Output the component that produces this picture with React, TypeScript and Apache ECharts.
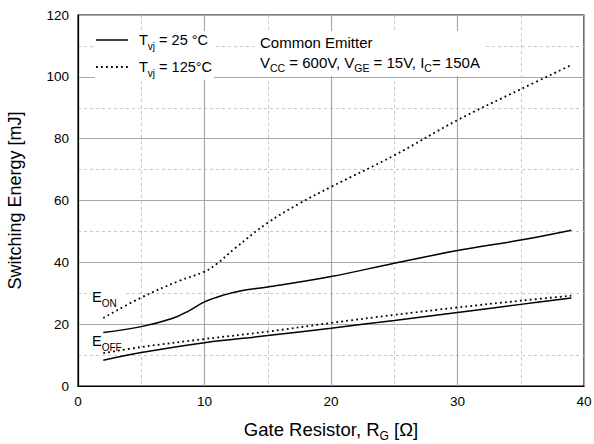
import React, { useEffect, useRef } from "react";
import * as echarts from "echarts";

const eon25X = [2, 5, 7.5, 8.8, 10, 11.5, 13, 15, 20, 25, 30, 35, 39];
const eon25Y = [17.3, 19.2, 21.9, 24.4, 27.2, 29.4, 30.9, 32.0, 35.4, 39.7, 43.8, 47.2, 50.4];

const eon125X = [2, 5, 8, 10, 11, 12.4, 15, 17.5, 20, 25, 30, 35, 39];
const eon125Y = [22.0, 28.6, 34.0, 37.0, 39.6, 44.5, 52.8, 59.0, 64.4, 74.6, 86.0, 96.0, 103.8];

const eoff25X = [2, 5, 10, 15, 20, 25, 30, 35, 39];
const eoff25Y = [8.3, 10.8, 14.0, 16.3, 18.7, 21.2, 23.8, 26.4, 28.5];

const eoff125X = [2, 5, 10, 15, 20, 25, 30, 35, 39];
const eoff125Y = [10.6, 12.6, 15.2, 17.6, 20.4, 23.0, 25.4, 27.6, 29.2];

const xTicks = [0, 10, 20, 30, 40];
const yTicks = [0, 20, 40, 60, 80, 100, 120];

const pairs = (xs: number[], ys: number[]) => xs.map((x, i) => [x, ys[i]]);

const FONT = "'Liberation Sans', Arial, sans-serif";
const DOT: number[] = [1.8, 3.2];

export default function App() {
  const ref = useRef<HTMLDivElement>(null);
  useEffect(() => {
    if (!ref.current) return;
    const chart = echarts.init(ref.current, undefined, { renderer: "svg" });
    const rich = {
      n: { fontSize: 14.5, fontFamily: FONT, color: "#000", lineHeight: 22 },
      s: { fontSize: 10, fontFamily: FONT, color: "#000", lineHeight: 11, verticalAlign: "bottom" },
    };
    const rich2 = {
      n: { fontSize: 15, fontFamily: FONT, color: "#000", lineHeight: 22 },
      s: { fontSize: 10.5, fontFamily: FONT, color: "#000", lineHeight: 11, verticalAlign: "bottom" },
    };
    const solid = { color: "#000", width: 1.5, type: "solid" };
    const dotted = { color: "#000", width: 1.8, type: DOT };
    chart.setOption({
      animation: false,
      backgroundColor: "#fff",
      textStyle: { fontFamily: FONT },
      grid: {
        left: 78,
        right: 10,
        top: 15,
        bottom: 58,
        show: true,
        borderColor: "#000",
        borderWidth: 1.2,
        containLabel: false,
        outerBoundsMode: "none",
      },
      xAxis: {
        type: "value",
        min: xTicks[0],
        max: xTicks[xTicks.length - 1],
        interval: 10,
        name: "{n|Gate Resistor, R}{s|G}{n| [Ω]}",
        nameLocation: "middle",
        nameGap: 30,
        nameTextStyle: {
          fontSize: 18.5,
          fontFamily: FONT,
          color: "#000",
          rich: {
            n: { fontSize: 18.5, fontFamily: FONT, color: "#000", lineHeight: 26 },
            s: { fontSize: 12, fontFamily: FONT, color: "#000", lineHeight: 12, verticalAlign: "bottom" },
          },
        },
        axisLine: { show: true, lineStyle: { color: "#000", width: 1.2 } },
        axisTick: { show: false },
        axisLabel: { fontSize: 13.5, color: "#000", fontFamily: FONT, margin: 8 },
        splitLine: { show: true, lineStyle: { color: "#a8a8a8", width: 1.2 } },
        minorTick: { show: false, splitNumber: 2 },
        minorSplitLine: { show: true, lineStyle: { color: "#c8c8c8", type: [3, 3], width: 1 } },
      },
      yAxis: {
        type: "value",
        min: yTicks[0],
        max: yTicks[yTicks.length - 1],
        interval: 20,
        name: "Switching Energy [mJ]",
        nameLocation: "middle",
        nameGap: 54,
        nameTextStyle: { fontSize: 18, fontFamily: FONT, color: "#000" },
        axisLine: { show: true, lineStyle: { color: "#000", width: 1.2 } },
        axisTick: { show: false },
        axisLabel: { fontSize: 13.5, color: "#000", fontFamily: FONT, margin: 9 },
        splitLine: { show: true, lineStyle: { color: "#a8a8a8", width: 1.2 } },
        minorTick: { show: false, splitNumber: 2 },
        minorSplitLine: { show: true, lineStyle: { color: "#c8c8c8", type: [3, 3], width: 1 } },
      },
      series: [
        { name: "Eon25", type: "line", smooth: 0.4, showSymbol: false, data: pairs(eon25X, eon25Y), lineStyle: solid },
        { name: "Eon125", type: "line", smooth: 0.4, showSymbol: false, data: pairs(eon125X, eon125Y), lineStyle: dotted },
        { name: "Eoff25", type: "line", smooth: 0.4, showSymbol: false, data: pairs(eoff25X, eoff25Y), lineStyle: solid },
        { name: "Eoff125", type: "line", smooth: 0.4, showSymbol: false, data: pairs(eoff125X, eoff125Y), lineStyle: dotted },
      ],
      graphic: [
        { type: "rect", z: 50, shape: { x: 95, y: 31, width: 119, height: 49 }, style: { fill: "#fff" } },
        { type: "rect", z: 50, shape: { x: 257, y: 31, width: 226, height: 45 }, style: { fill: "#fff" } },
        { type: "rect", z: 50, shape: { x: 91, y: 287, width: 34, height: 20 }, style: { fill: "#fff" } },
        { type: "line", z: 51, shape: { x1: 96, y1: 40, x2: 128, y2: 40 }, style: { stroke: "#000", lineWidth: 1.5 } },
        { type: "line", z: 51, shape: { x1: 96, y1: 67, x2: 128, y2: 67 }, style: { stroke: "#000", lineWidth: 1.8, lineDash: DOT } },
        {
          type: "text", z: 51, x: 139, y: 40,
          style: { text: "{n|T}{s|vj}{n| = 25 °C}", rich, verticalAlign: "middle", align: "left" },
        },
        {
          type: "text", z: 51, x: 139, y: 67,
          style: { text: "{n|T}{s|vj}{n| = 125°C}", rich, verticalAlign: "middle", align: "left" },
        },
        {
          type: "text", z: 51, x: 260, y: 42,
          style: { text: "Common Emitter", fontSize: 15, fontFamily: FONT, fill: "#000", verticalAlign: "middle", align: "left" },
        },
        {
          type: "text", z: 51, x: 260, y: 62,
          style: {
            text: "{n|V}{s|CC}{n| = 600V, V}{s|GE}{n| = 15V, I}{s|C}{n|= 150A}",
            rich: rich2, verticalAlign: "middle", align: "left",
          },
        },
        {
          type: "text", z: 51, x: 92, y: 297,
          style: { text: "{n|E}{s|ON}", rich, verticalAlign: "middle", align: "left" },
        },
        {
          type: "text", z: 51, x: 92, y: 341,
          style: { text: "{n|E}{s|OFF}", rich, verticalAlign: "middle", align: "left" },
        },
      ],
    });
    return () => chart.dispose();
  }, []);
  return <div ref={ref} style={{ width: 594, height: 444, position: "absolute", left: 0, top: 0 }} />;
}
